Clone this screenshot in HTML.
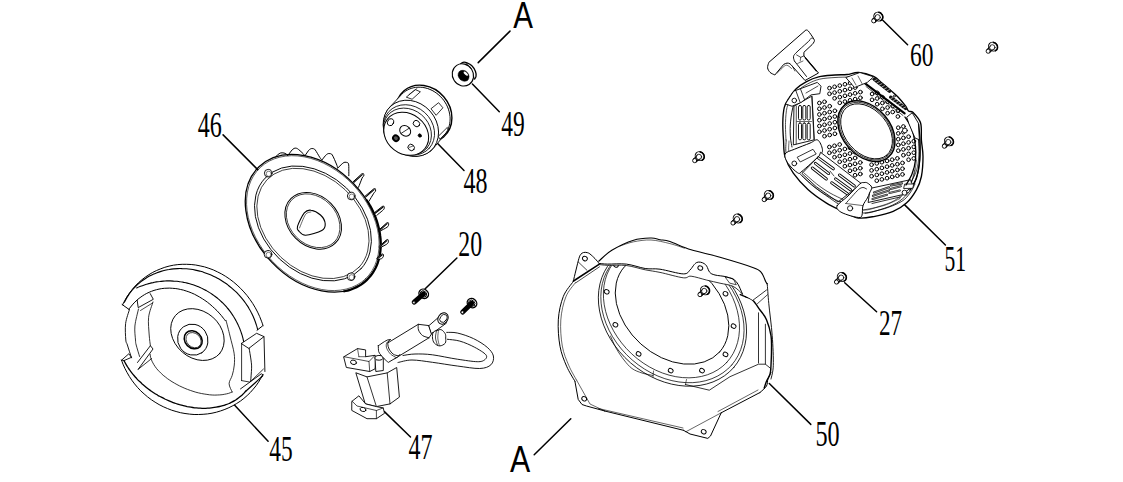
<!DOCTYPE html>
<html><head><meta charset="utf-8"><style>html,body{margin:0;padding:0;background:#fff;overflow:hidden}svg{display:block}</style></head>
<body><svg width="1123" height="482" viewBox="0 0 1123 482" stroke-linecap="round" stroke-linejoin="round">
<text transform="translate(197.7 136.7) scale(0.682 1)" font-family="Liberation Serif" font-size="35.3">46</text>
<text transform="translate(269.3 460.7) scale(0.644 1)" font-family="Liberation Serif" font-size="36.3">45</text>
<text transform="translate(501.2 135.9) scale(0.647 1)" font-family="Liberation Serif" font-size="36.3">49</text>
<text transform="translate(463.5 192.8) scale(0.662 1)" font-family="Liberation Serif" font-size="36.3">48</text>
<text transform="translate(458.3 256.1) scale(0.670 1)" font-family="Liberation Serif" font-size="35.6">20</text>
<text transform="translate(408.5 458.8) scale(0.659 1)" font-family="Liberation Serif" font-size="36.5">47</text>
<text transform="translate(815.5 445.7) scale(0.697 1)" font-family="Liberation Serif" font-size="34.8">50</text>
<text transform="translate(944.5 271.1) scale(0.610 1)" font-family="Liberation Serif" font-size="35.4">51</text>
<text transform="translate(879 335) scale(0.655 1)" font-family="Liberation Serif" font-size="35.4">27</text>
<text transform="translate(909.9 66.3) scale(0.687 1)" font-family="Liberation Serif" font-size="34.2">60</text>
<text transform="translate(513.3 28.2) scale(0.803 1)" font-family="Liberation Sans" font-size="36.8">A</text>
<text transform="translate(510 472.3) scale(0.802 1)" font-family="Liberation Sans" font-size="37.8">A</text>
<line x1="223.1" y1="134.9" x2="257.7" y2="169.6" stroke="#000" stroke-width="1.5"/>
<line x1="234.7" y1="405.3" x2="268.1" y2="441.3" stroke="#000" stroke-width="1.5"/>
<line x1="472.4" y1="84" x2="499.3" y2="111.7" stroke="#000" stroke-width="1.5"/>
<line x1="478.2" y1="62.6" x2="510" y2="31.1" stroke="#000" stroke-width="1.5"/>
<line x1="436.4" y1="142.2" x2="464" y2="170.4" stroke="#000" stroke-width="1.5"/>
<line x1="456.9" y1="258" x2="425.2" y2="288.8" stroke="#000" stroke-width="1.5"/>
<line x1="384.4" y1="411.6" x2="410.5" y2="437" stroke="#000" stroke-width="1.5"/>
<line x1="769.3" y1="383.5" x2="810.8" y2="424.4" stroke="#000" stroke-width="1.5"/>
<line x1="570.8" y1="418.7" x2="534.2" y2="454.8" stroke="#000" stroke-width="1.5"/>
<line x1="904.2" y1="204.4" x2="945.4" y2="245" stroke="#000" stroke-width="1.5"/>
<line x1="844.7" y1="282.8" x2="876.6" y2="311.8" stroke="#000" stroke-width="1.5"/>
<line x1="882.8" y1="20.3" x2="907.6" y2="44.8" stroke="#000" stroke-width="1.5"/>
<ellipse cx="312.9" cy="223.2" rx="78" ry="56.7" transform="rotate(46.6 312.9 223.2)" stroke="#000" stroke-width="1.3" fill="none"/>
<path d="M366.8 200.1C367.4 201.1 369.2 203.9 370.2 205.9C371.3 207.8 372.3 209.8 373.2 211.7C374.1 213.7 374.9 215.7 375.7 217.7C376.4 219.7 377.1 221.7 377.7 223.7C378.3 225.8 378.8 227.8 379.2 229.8C379.6 231.8 380 233.8 380.2 235.7C380.5 237.7 380.7 239.7 380.7 241.6C380.8 243.5 380.8 245.5 380.7 247.3C380.6 249.2 380.5 251.1 380.2 252.9C379.9 254.7 379.6 256.5 379.2 258.2C378.7 259.9 378.2 261.6 377.6 263.3C377 264.9 376.3 266.5 375.6 268C374.8 269.5 374 271 373.1 272.4C372.2 273.8 371.2 275.2 370.1 276.5C369 277.7 367.9 279 366.7 280.1C365.5 281.2 364.2 282.3 362.9 283.3C361.5 284.3 360.1 285.2 358.7 286C357.2 286.9 355.7 287.6 354.1 288.3C352.6 289 351 289.6 349.3 290.1C347.6 290.6 345 291.1 344.2 291.3" stroke="#000" stroke-width="2.2" fill="none"/>
<ellipse cx="312.9" cy="223.2" rx="76.6" ry="55.6" transform="rotate(46.6 312.9 223.2)" stroke="#000" stroke-width="0.6" fill="none"/>
<ellipse cx="313" cy="223.5" rx="66" ry="48.8" transform="rotate(43.4 313 223.5)" stroke="#000" stroke-width="0.9" fill="none"/>
<ellipse cx="313" cy="223.5" rx="63.5" ry="46.6" transform="rotate(43.4 313 223.5)" stroke="#000" stroke-width="0.7" fill="none"/>
<ellipse cx="313.2" cy="220.8" rx="31.5" ry="24.8" transform="rotate(45.4 313.2 220.8)" stroke="#000" stroke-width="1.0" fill="none"/>
<ellipse cx="313.2" cy="220.8" rx="30" ry="23.4" transform="rotate(45.4 313.2 220.8)" stroke="#000" stroke-width="0.7" fill="none"/>
<circle cx="268.2" cy="173.2" r="3.8" stroke="#000" stroke-width="0.9" fill="#fff"/>
<circle cx="268.8" cy="173.79999999999998" r="2.6" stroke="#000" stroke-width="0.5" fill="none"/>
<circle cx="351.2" cy="196" r="3.8" stroke="#000" stroke-width="0.9" fill="#fff"/>
<circle cx="351.8" cy="196.6" r="2.6" stroke="#000" stroke-width="0.5" fill="none"/>
<circle cx="268" cy="254.3" r="3.8" stroke="#000" stroke-width="0.9" fill="#fff"/>
<circle cx="268.6" cy="254.9" r="2.6" stroke="#000" stroke-width="0.5" fill="none"/>
<circle cx="351" cy="276.7" r="3.8" stroke="#000" stroke-width="0.9" fill="#fff"/>
<circle cx="351.6" cy="277.3" r="2.6" stroke="#000" stroke-width="0.5" fill="none"/>
<path d="M297.5 226.4C298.4 223.4 302.1 215.6 304.3 212.9C306.6 210.2 308.3 209.8 311 210.2C313.7 210.5 318.1 212.8 320.5 215C322.9 217.2 325 221.1 325.2 223.7C325.4 226.3 325.1 228.6 321.8 230.5C318.5 232.4 309.4 235.1 305.6 235.2C301.8 235.3 300.2 232.6 298.9 231.1C297.5 229.6 296.6 229.4 297.5 226.4Z" stroke="#000" stroke-width="1.1" fill="none"/>
<path d="M299.5 228C300.5 225.8 303.6 217.2 305.5 214.5C307.4 211.8 310.1 212.4 311 212" stroke="#000" stroke-width="0.6" fill="none"/>
<path d="M274.6 157.8C275.1 157.3 276.5 155.8 277.5 155C278.5 154.2 279.6 153.2 280.8 152.9C282.1 152.6 283.8 152.9 285 153.3C286.2 153.7 287.3 155.1 287.8 155.4" stroke="#000" stroke-width="1.0" fill="none"/>
<path d="M287.8 155.4 L292.1 149.9 C292.4 149.7 293.4 148.7 294.1 148.4C294.8 148.1 295.5 148 296.3 148.2C297.1 148.4 297.6 148.7 298.7 149.6C299.8 150.5 302.2 152.7 303.2 153.7C304.2 154.7 304.6 155.5 304.9 155.8" stroke="#000" stroke-width="1.0" fill="none"/>
<path d="M304.9 155.8 L308.7 150.3 C309 150 310 149.1 310.7 148.8C311.4 148.5 312.1 148.4 312.9 148.6C313.7 148.8 314.1 148.5 315.3 150C316.4 151.5 318.7 155.7 319.8 157.4C320.9 159.1 321.5 159.6 321.9 160" stroke="#000" stroke-width="1.0" fill="none"/>
<path d="M321.9 160 L325.7 155.3 C326 155 327 154.1 327.7 153.8C328.4 153.5 329.1 153.4 329.9 153.6C330.7 153.8 331.2 153.3 332.3 155C333.4 156.7 335.5 161.9 336.4 164C337.3 166.1 337.4 167 337.6 167.6" stroke="#000" stroke-width="1.0" fill="none"/>
<path d="M337.6 168.2 L341.9 164 C342.2 163.8 343.2 162.8 343.9 162.5C344.6 162.2 345.3 162.1 346.1 162.3C346.9 162.5 348.1 162.4 348.5 163.7C348.9 165 348.8 167.9 348.8 169.9C348.9 171.9 348.8 174.7 348.8 175.7" stroke="#000" stroke-width="1.0" fill="none"/>
<path d="M353.3 181.6 L361.7 173.9C362 173.8 363 173.2 363.3 173.5C363.7 173.8 364 175 363.8 175.8C363.6 176.5 363 176.2 362.1 178.1C361.3 180 359.1 185.8 358.5 187.3" stroke="#000" stroke-width="1.0" fill="#fff"/>
<path d="M353.9 182.3L362.3 174.6" stroke="#000" stroke-width="1.1" fill="none"/>
<path d="M365.2 196.1 L373.5 189C373.8 189 374.9 188.3 375.2 188.6C375.5 189 375.8 190.2 375.6 191C375.4 191.7 375 191.5 373.8 193.2C372.7 194.9 369.7 200 368.9 201.3" stroke="#000" stroke-width="1.0" fill="#fff"/>
<path d="M365.8 196.8L374.1 189.7" stroke="#000" stroke-width="1.1" fill="none"/>
<path d="M373.9 213.1 L382.2 206.5C382.5 206.4 383.6 205.9 383.9 206.2C384.2 206.5 384.4 207.7 384.2 208.5C383.9 209.3 383.6 209.6 382.4 210.7C381.1 211.8 377.7 214.5 376.8 215.3" stroke="#000" stroke-width="1.0" fill="#fff"/>
<path d="M374.5 213.8L382.8 207.2" stroke="#000" stroke-width="1.1" fill="none"/>
<path d="M378.3 230.5 L386.5 223.1C386.8 223 387.8 222.3 388.2 222.6C388.5 223 388.9 224.2 388.6 224.9C388.4 225.7 388.5 226.2 387 227.3C385.5 228.3 380.9 230.6 379.7 231.3" stroke="#000" stroke-width="1.0" fill="#fff"/>
<path d="M378.9 231.2L387.1 223.7" stroke="#000" stroke-width="1.1" fill="none"/>
<path d="M379 246.5 L386.3 240C386.6 239.9 387.6 239.2 388 239.6C388.3 239.9 388.6 241.1 388.4 241.8C388.2 242.6 388.2 243.1 386.7 244.2C385.2 245.2 380.7 247.4 379.5 248" stroke="#000" stroke-width="1.0" fill="#fff"/>
<path d="M379.6 247.2L386.9 240.6" stroke="#000" stroke-width="1.1" fill="none"/>
<path d="M376.8 258.2 L381.4 254.4C381.6 254.3 382.7 253.7 383 254C383.4 254.3 383.6 255.5 383.4 256.3C383.2 257.1 382.6 258 381.6 258.6C380.7 259.1 378.2 259.3 377.5 259.5" stroke="#000" stroke-width="1.0" fill="#fff"/>
<path d="M377.4 258.9L382 255" stroke="#000" stroke-width="1.1" fill="none"/>
<path d="M122.6 304.8C122.9 304.1 123.9 302 124.7 300.7C125.4 299.3 126.2 298 127 296.7C127.8 295.5 128.6 294.2 129.5 293C130.4 291.8 131.3 290.6 132.3 289.4C133.2 288.2 134.2 287.1 135.2 286C136.2 284.9 137.3 283.9 138.4 282.8C139.4 281.8 140.6 280.8 141.7 279.9C142.8 278.9 144 278 145.2 277.2C146.4 276.3 147.6 275.5 148.9 274.7C150.1 273.9 151.4 273.1 152.7 272.4C153.9 271.7 155.3 271.1 156.6 270.5C157.9 269.9 159.3 269.3 160.7 268.8C162 268.2 163.4 267.7 164.8 267.3C166.2 266.9 167.6 266.5 169.1 266.1C170.5 265.8 171.9 265.5 173.4 265.2C174.8 265 176.3 264.8 177.8 264.6C179.3 264.5 180.7 264.4 182.2 264.3C183.7 264.3 185.2 264.2 186.7 264.3C188.2 264.3 189.7 264.4 191.2 264.5C192.7 264.6 194.2 264.8 195.7 265C197.1 265.3 198.6 265.5 200.1 265.9C201.6 266.2 203.1 266.5 204.6 266.9C206 267.4 207.5 267.8 208.9 268.3C210.4 268.8 211.8 269.4 213.3 269.9C214.7 270.5 216.1 271.2 217.5 271.9C218.9 272.5 220.3 273.2 221.7 274C223 274.8 224.4 275.6 225.7 276.4C227.1 277.3 228.4 278.2 229.7 279.1C231 280 232.2 281 233.5 282C234.7 283 235.9 284 237.1 285.1C238.3 286.2 239.5 287.3 240.6 288.4C241.8 289.5 242.9 290.7 243.9 291.9C245 293.1 246.1 294.4 247.1 295.6C248.1 296.9 249.1 298.2 250 299.5C251 300.9 251.9 302.2 252.8 303.6C253.6 305 254.5 306.4 255.3 307.8C256.1 309.2 256.9 310.7 257.6 312.1C258.3 313.6 259 315.1 259.7 316.6C260.3 318.1 261 319.6 261.5 321.2C262.1 322.7 262.9 325 263.1 325.8" stroke="#000" stroke-width="1.0" fill="none"/>
<path d="M124.4 302.2C124.7 301.6 125.6 299.8 126.3 298.6C127 297.4 127.7 296.3 128.5 295.1C129.2 294 130 292.9 130.8 291.8C131.7 290.8 132.5 289.7 133.4 288.7C134.3 287.7 135.3 286.7 136.2 285.8C137.2 284.8 138.2 283.9 139.3 283C140.3 282.2 141.4 281.3 142.5 280.5C143.6 279.7 144.7 278.9 145.9 278.2C147 277.5 148.2 276.8 149.4 276.1C150.6 275.5 151.9 274.9 153.1 274.3C154.4 273.7 155.7 273.2 157 272.7C158.3 272.2 159.6 271.8 161 271.4C162.3 271 163.7 270.6 165 270.3C166.4 270 167.8 269.7 169.2 269.5C170.6 269.2 172.1 269 173.5 268.9C174.9 268.8 176.3 268.7 177.8 268.6C179.2 268.5 180.7 268.5 182.2 268.6C183.6 268.6 185.1 268.7 186.5 268.8C188 268.9 189.5 269.1 190.9 269.3C192.4 269.5 193.9 269.8 195.3 270.1C196.8 270.4 198.2 270.7 199.7 271.1C201.1 271.5 202.6 271.9 204 272.4C205.4 272.9 206.9 273.4 208.3 273.9C209.7 274.5 211.1 275.1 212.5 275.7C213.9 276.4 215.2 277 216.6 277.7C217.9 278.5 219.3 279.2 220.6 280C221.9 280.8 223.2 281.6 224.4 282.5C225.7 283.3 227 284.2 228.2 285.2C229.4 286.1 230.6 287.1 231.8 288.1C232.9 289.1 234.1 290.1 235.2 291.2C236.3 292.2 237.4 293.3 238.4 294.4C239.5 295.5 240.5 296.7 241.5 297.9C242.4 299 243.4 300.2 244.3 301.4C245.2 302.7 246.1 303.9 246.9 305.2C247.8 306.4 248.6 307.7 249.3 309C250.1 310.3 250.8 311.6 251.5 313C252.2 314.3 252.8 315.7 253.4 317C254 318.4 254.6 319.8 255.1 321.2C255.6 322.6 256.1 324 256.5 325.4C257 326.8 257.5 328.9 257.7 329.6" stroke="#000" stroke-width="1.1" fill="none"/>
<path d="M122.1 304.5L129.4 309.7" stroke="#000" stroke-width="1.0" fill="none"/>
<path d="M262.5 326L257 330.2" stroke="#000" stroke-width="1.0" fill="none"/>
<path d="M136.7 288C137.3 287.7 138.8 287 139.9 286.6C141 286.2 142 285.8 143.1 285.4C144.2 285 145.3 284.6 146.4 284.3C147.5 284 148.6 283.6 149.7 283.4C150.8 283.1 151.9 282.8 153.1 282.6C154.2 282.3 155.3 282.1 156.4 281.9C157.6 281.7 158.7 281.6 159.8 281.5C161 281.3 162.1 281.2 163.3 281.1C164.4 281 165.6 281 166.7 280.9C167.9 280.9 169 280.9 170.1 280.9C171.3 280.9 172.4 281 173.6 281.1C174.7 281.1 175.9 281.2 177 281.3C178.2 281.5 179.3 281.6 180.4 281.8C181.6 281.9 182.7 282.1 183.8 282.4C184.9 282.6 186.1 282.8 187.2 283.1C188.3 283.4 189.4 283.7 190.5 284C191.6 284.3 192.7 284.7 193.8 285C194.8 285.4 195.9 285.8 197 286.2C198 286.6 199.1 287.1 200.1 287.5C201.2 288 202.2 288.5 203.2 289C204.3 289.5 205.3 290.1 206.3 290.6C207.3 291.2 208.3 291.8 209.2 292.4C210.2 293 211.2 293.6 212.1 294.2C213.1 294.9 214 295.5 214.9 296.2C215.8 296.9 216.7 297.6 217.6 298.3C218.5 299.1 219.3 299.8 220.2 300.6C221 301.4 221.9 302.1 222.7 302.9C223.5 303.7 224.3 304.6 225.1 305.4C225.8 306.2 226.6 307.1 227.3 308C228.1 308.8 228.8 309.7 229.5 310.6C230.2 311.5 230.9 312.5 231.5 313.4C232.2 314.3 232.8 315.3 233.4 316.3C234 317.2 234.6 318.2 235.2 319.2C235.7 320.2 236.3 321.2 236.8 322.2C237.3 323.2 237.8 324.2 238.3 325.3C238.8 326.3 239.2 327.4 239.7 328.4C240.1 329.5 240.5 330.6 240.9 331.6C241.3 332.7 241.6 333.8 242 334.9C242.3 336 242.6 337.1 242.9 338.2C243.2 339.3 243.5 341 243.7 341.5" stroke="#000" stroke-width="1.1" fill="none"/>
<path d="M128.9 309.2C129.2 308.8 130 307.7 130.6 307C131.1 306.3 131.7 305.6 132.3 304.9C132.9 304.2 133.5 303.5 134.1 302.9C134.7 302.2 135.3 301.6 136 301C136.6 300.4 137.3 299.8 138 299.2C138.7 298.7 139.4 298.1 140.1 297.6C140.8 297.1 141.5 296.5 142.2 296.1C142.9 295.6 143.7 295.1 144.4 294.7C145.2 294.2 145.9 293.8 146.7 293.4C147.5 293 148.3 292.6 149.1 292.3C149.9 291.9 150.7 291.6 151.5 291.3C152.3 291 153.1 290.7 154 290.4C154.8 290.1 155.6 289.9 156.5 289.7C157.3 289.4 158.2 289.3 159 289.1C159.9 288.9 160.8 288.8 161.7 288.6C162.5 288.5 163.4 288.4 164.3 288.3C165.2 288.2 166.1 288.2 167 288.2C167.9 288.1 168.8 288.1 169.7 288.1C170.6 288.2 171.5 288.2 172.4 288.3C173.3 288.3 174.2 288.4 175.2 288.5C176.1 288.6 177 288.8 177.9 288.9C178.8 289.1 179.7 289.3 180.7 289.5C181.6 289.7 182.5 289.9 183.4 290.1C184.3 290.4 185.3 290.7 186.2 291C187.1 291.3 188 291.6 188.9 291.9C189.8 292.3 190.7 292.6 191.7 293C192.6 293.4 193.5 293.8 194.4 294.2C195.3 294.7 196.2 295.1 197 295.6C197.9 296.1 198.8 296.5 199.7 297.1C200.6 297.6 201.4 298.1 202.3 298.7C203.2 299.2 204 299.8 204.9 300.4C205.7 301 206.6 301.6 207.4 302.2C208.2 302.9 209.1 303.5 209.9 304.2C210.7 304.9 211.5 305.6 212.3 306.3C213.1 307 213.9 307.7 214.7 308.5C215.5 309.2 216.2 310 217 310.7C217.7 311.5 218.5 312.3 219.2 313.1C219.9 313.9 220.7 314.8 221.4 315.6C222.1 316.4 222.8 317.3 223.4 318.2C224.1 319 225.1 320.4 225.4 320.8" stroke="#000" stroke-width="1.0" fill="none"/>
<path d="M137.2 300.4L138.2 307.6L153.3 299.3L150.2 293.6" stroke="#000" stroke-width="0.9" fill="none"/>
<path d="M140.5 310.5L152.5 303" stroke="#000" stroke-width="0.7" fill="none"/>
<path d="M129.4 309.7C128.8 312 126.2 318.6 125.6 323.6C125 328.7 125.5 336.4 125.8 340C126.1 343.6 126.5 342 127.4 345C128.3 348 130.8 355.7 131.5 357.8" stroke="#000" stroke-width="0.9" fill="none"/>
<path d="M138.5 309C137.9 311.8 135.4 320.8 134.9 326C134.4 331.2 135.3 336.8 135.5 340C135.7 343.2 135.5 342.2 136.2 345C136.9 347.8 139 354.6 139.6 356.5" stroke="#000" stroke-width="0.8" fill="none"/>
<path d="M153 302C152.3 304.6 149.2 311.8 148.6 317.3C148 322.8 148.9 330.3 149.2 335C149.5 339.7 150.2 343.9 150.4 345.7" stroke="#000" stroke-width="0.8" fill="none"/>
<path d="M121.4 360C121.7 360.7 122.5 362.8 123 364.2C123.6 365.6 124.2 367 124.9 368.4C125.5 369.8 126.2 371.1 127 372.4C127.7 373.8 128.5 375.1 129.3 376.4C130.1 377.7 130.9 379 131.8 380.2C132.7 381.5 133.6 382.7 134.6 383.9C135.5 385.1 136.5 386.3 137.5 387.4C138.6 388.6 139.6 389.7 140.7 390.8C141.8 391.8 142.9 392.9 144.1 393.9C145.2 394.9 146.4 395.9 147.6 396.9C148.8 397.9 150 398.8 151.3 399.7C152.5 400.6 153.8 401.4 155.1 402.2C156.4 403 157.8 403.8 159.1 404.6C160.5 405.3 161.8 406 163.2 406.7C164.6 407.3 166 408 167.4 408.5C168.8 409.1 170.3 409.7 171.7 410.2C173.2 410.7 174.6 411.1 176.1 411.5C177.6 412 179 412.3 180.5 412.7C182 413 183.5 413.3 185 413.5C186.5 413.8 188 414 189.5 414.1C191 414.3 192.6 414.4 194.1 414.5C195.6 414.5 197.1 414.5 198.6 414.5C200.1 414.5 201.6 414.4 203.1 414.3C204.6 414.2 206.1 414.1 207.6 413.9C209.1 413.7 210.5 413.4 212 413.2C213.5 412.9 214.9 412.5 216.4 412.2C217.8 411.8 219.2 411.4 220.7 410.9C222.1 410.5 223.5 410 224.9 409.4C226.2 408.9 227.6 408.3 228.9 407.7C230.3 407.1 231.6 406.4 232.9 405.7C234.2 405 235.5 404.3 236.7 403.5C237.9 402.7 239.2 401.9 240.4 401.1C241.6 400.2 242.7 399.3 243.9 398.4C245 397.5 246.1 396.5 247.2 395.5C248.3 394.6 249.3 393.5 250.3 392.5C251.3 391.4 252.3 390.3 253.2 389.2C254.2 388.1 255.1 387 256 385.8C256.8 384.6 257.7 383.4 258.5 382.2C259.3 381 260 379.7 260.7 378.5C261.5 377.2 262.4 375.2 262.8 374.6" stroke="#000" stroke-width="1.0" fill="none"/>
<path d="M123.9 360.5C124.2 361.1 125 362.6 125.6 363.6C126.2 364.7 126.8 365.7 127.4 366.7C128.1 367.7 128.7 368.7 129.4 369.7C130.1 370.7 130.9 371.7 131.6 372.6C132.4 373.6 133.2 374.6 134 375.5C134.8 376.5 135.6 377.4 136.5 378.3C137.3 379.3 138.2 380.2 139.1 381.1C140.1 382 141 382.8 141.9 383.7C142.9 384.6 143.9 385.4 144.9 386.2C145.9 387.1 146.9 387.9 148 388.7C149 389.5 150.1 390.2 151.1 391C152.2 391.8 153.3 392.5 154.4 393.2C155.5 393.9 156.7 394.6 157.8 395.3C159 395.9 160.1 396.6 161.3 397.2C162.5 397.8 163.7 398.4 164.8 399C166 399.6 167.2 400.1 168.5 400.6C169.7 401.2 170.9 401.7 172.1 402.1C173.4 402.6 174.6 403.1 175.8 403.5C177.1 403.9 178.3 404.3 179.6 404.7C180.8 405 182.1 405.4 183.3 405.7C184.6 406 185.9 406.3 187.1 406.6C188.4 406.8 189.6 407 190.9 407.2C192.1 407.4 193.4 407.6 194.6 407.8C195.9 407.9 197.1 408 198.4 408.1C199.6 408.2 200.8 408.2 202.1 408.3C203.3 408.3 204.5 408.3 205.7 408.3C206.9 408.2 208.1 408.2 209.3 408.1C210.5 408 211.6 407.9 212.8 407.7C214 407.6 215.1 407.4 216.2 407.2C217.4 407 218.5 406.8 219.6 406.5C220.7 406.3 221.8 406 222.8 405.7C223.9 405.4 224.9 405 225.9 404.6C227 404.3 228 403.9 229 403.5C229.9 403 230.9 402.6 231.8 402.1C232.8 401.6 233.7 401.1 234.6 400.6C235.5 400.1 236.3 399.5 237.2 398.9C238 398.4 238.8 397.8 239.6 397.1C240.4 396.5 241.1 395.9 241.9 395.2C242.6 394.5 243.3 393.8 244 393.1C244.6 392.4 245.6 391.3 245.9 390.9" stroke="#000" stroke-width="1.3" fill="none"/>
<path d="M122 359.8L128.8 353.8L131.5 357.3L124.2 360.5Z" stroke="#000" stroke-width="0.9" fill="none"/>
<path d="M137.5 362.5L150.4 345.7L153 349L138.2 369.3" stroke="#000" stroke-width="0.9" fill="none"/>
<path d="M138.2 369.3L151.7 358.5" stroke="#000" stroke-width="0.8" fill="none"/>
<path d="M150.1 354.3C150.1 354.6 150.2 355.4 150.3 356C150.4 356.6 150.6 357.1 150.7 357.7C150.9 358.3 151 358.8 151.3 359.4C151.5 360 151.7 360.6 152 361.2C152.2 361.8 152.5 362.3 152.9 362.9C153.2 363.5 153.5 364.1 153.9 364.7C154.3 365.3 154.7 365.9 155.1 366.5C155.5 367.1 156 367.7 156.4 368.3C156.9 368.9 157.4 369.5 157.9 370.1C158.5 370.6 159 371.2 159.6 371.8C160.1 372.4 160.7 373 161.3 373.5C161.9 374.1 162.6 374.7 163.2 375.3C163.9 375.8 164.6 376.4 165.3 376.9C165.9 377.5 166.7 378 167.4 378.6C168.1 379.1 168.9 379.6 169.6 380.1C170.4 380.7 171.2 381.2 172 381.7C172.8 382.2 173.6 382.7 174.4 383.1C175.2 383.6 176 384.1 176.9 384.5C177.7 385 178.6 385.4 179.5 385.9C180.3 386.3 181.2 386.7 182.1 387.1C183 387.5 183.9 387.9 184.8 388.3C185.7 388.7 186.6 389.1 187.5 389.4C188.4 389.8 189.3 390.1 190.3 390.4C191.2 390.7 192.1 391 193 391.3C194 391.6 194.9 391.9 195.8 392.2C196.8 392.4 197.7 392.7 198.6 392.9C199.6 393.1 200.5 393.3 201.4 393.5C202.3 393.7 203.3 393.9 204.2 394C205.1 394.2 206 394.3 206.9 394.4C207.8 394.6 208.7 394.7 209.6 394.8C210.5 394.8 211.4 394.9 212.2 395C213.1 395 213.9 395 214.8 395.1C215.6 395.1 216.5 395.1 217.3 395C218.1 395 218.9 395 219.7 394.9C220.5 394.9 221.3 394.8 222.1 394.7C222.8 394.6 223.6 394.5 224.3 394.3C225 394.2 225.7 394.1 226.4 393.9C227.1 393.7 227.8 393.6 228.5 393.4C229.1 393.2 229.7 392.9 230.4 392.7C231 392.5 231.8 392.1 232.1 392" stroke="#000" stroke-width="0.8" fill="none"/>
<path d="M232.2 392C231.7 390.6 229.1 386.5 229.1 383.7C229.1 380.9 231.3 378.5 232.2 375.4C233.1 372.3 234 368.7 234.3 365C234.6 361.3 234.8 358 234.1 353.2C233.4 348.4 231.3 341.5 230 336C228.7 330.5 226.7 322.9 226 320.3" stroke="#000" stroke-width="0.8" fill="none"/>
<path d="M241.6 343.3L256.6 333.3L264 336.6L249.1 348.2Z" stroke="#000" stroke-width="0.9" fill="none"/>
<path d="M241.6 343.3L241.6 380.6" stroke="#000" stroke-width="0.8" fill="none"/>
<path d="M249.1 348.2C249.4 350.2 250.6 356.7 251 360C251.4 363.3 251.7 364.7 251.6 368.2C251.5 371.7 250.8 378.9 250.7 381" stroke="#000" stroke-width="0.9" fill="none"/>
<path d="M264 336.6L264.9 371.5" stroke="#000" stroke-width="0.9" fill="none"/>
<path d="M241.6 380.6L249.9 382.1L263.4 369.1" stroke="#000" stroke-width="0.8" fill="none"/>
<path d="M240.5 388.9L261.3 373.8L263.4 374.9" stroke="#000" stroke-width="0.9" fill="none"/>
<path d="M246 391C247.5 389.7 252.2 385.5 255 383C257.8 380.5 261.2 377.2 262.5 376" stroke="#000" stroke-width="1.2" fill="none"/>
<ellipse cx="197.5" cy="334.6" rx="29.2" ry="23.2" transform="rotate(41 197.5 334.6)" stroke="#000" stroke-width="0.9" fill="none"/>
<ellipse cx="192.8" cy="339.7" rx="15.9" ry="14.9" transform="rotate(55 192.8 339.7)" stroke="#000" stroke-width="0.9" fill="none"/>
<ellipse cx="193.2" cy="339.8" rx="9.8" ry="8.2" transform="rotate(45 193.2 339.8)" stroke="#000" stroke-width="1.5" fill="none"/>
<ellipse cx="193.6" cy="340.2" rx="8.4" ry="6.8" transform="rotate(45 193.6 340.2)" stroke="#000" stroke-width="0.7" fill="none"/>
<ellipse cx="423.8" cy="113.9" rx="30.4" ry="26.3" transform="rotate(49.4 423.8 113.9)" stroke="#000" stroke-width="1.4" fill="#fff"/>
<ellipse cx="423.3" cy="114.6" rx="28.8" ry="24.8" transform="rotate(49.4 423.3 114.6)" stroke="#000" stroke-width="0.6" fill="none"/>
<path d="M383.8 124.2L383.8 121.8L384.1 119.4L384.5 117.1L385.2 114.9L386.1 112.8L387.1 110.7L388.4 108.8L389.8 107.1L401.8 94.3L403.4 92.7L405.2 91.4L407.1 90.2L409.1 89.2L411.2 88.4L413.4 87.8L415.7 87.3L418 87.2L420.3 87.2L422.7 87.4L425.1 87.9L427.5 88.5L429.8 89.4L432.1 90.4L434.3 91.7L436.4 93.1L438.4 94.7L440.3 96.4L442.1 98.3L443.7 100.3L445.1 102.4L446.4 104.6L447.5 106.9L448.4 109.2L449.1 111.6L449.7 114.1L450 116.5L450.1 118.9L450 121.3L449.7 123.6L449.2 125.9L448.5 128.1L447.6 130.2L446.5 132.2L445.2 134L433.2 148.5L431.6 150.1L429.8 151.5L427.9 152.8L425.9 153.8L423.8 154.7L421.6 155.3L419.3 155.7L416.9 156L414.6 156L412.1 155.8L409.7 155.4L407.3 154.7L404.9 153.9L402.6 152.9L400.4 151.7L398.2 150.2L396.1 148.7L394.1 146.9L392.3 145.1L390.6 143.1L389.1 140.9L387.8 138.7L386.6 136.4L385.6 134L384.9 131.6L384.3 129.2L383.9 126.7Z" stroke="#000" stroke-width="0.9" fill="#fff"/>
<path d="M431.3 108.5L438.6 102.7L442.9 107.8L436.4 115Z" stroke="#000" stroke-width="0.8" fill="#fff"/>
<path d="M406.6 96.9L415.3 89.6L420.4 91.8L412.4 99Z" stroke="#000" stroke-width="0.8" fill="none"/>
<path d="M409 94.5L417 88.5" stroke="#000" stroke-width="0.6" fill="none"/>
<path d="M438.6 136L447.3 127.4L448.7 130.3L440 139Z" stroke="#000" stroke-width="0.8" fill="none"/>
<ellipse cx="410.9" cy="128.4" rx="30" ry="25.8" transform="rotate(48 410.9 128.4)" stroke="#000" stroke-width="0.9" fill="#fff"/>
<ellipse cx="409" cy="130" rx="27.3" ry="23.5" transform="rotate(42 409 130)" stroke="#000" stroke-width="0.8" fill="#fff"/>
<ellipse cx="407.5" cy="131.5" rx="25.5" ry="21.8" transform="rotate(40 407.5 131.5)" stroke="#000" stroke-width="0.8" fill="#fff"/>
<ellipse cx="406.2" cy="133.8" rx="23.8" ry="20" transform="rotate(38 406.2 133.8)" stroke="#000" stroke-width="1.0" fill="#fff"/>
<ellipse cx="390.6" cy="122.2" rx="3" ry="3.6" transform="rotate(20 390.6 122.2)" stroke="#000" stroke-width="0.9" fill="#fff"/>
<ellipse cx="416.5" cy="123.6" rx="3.4" ry="3" transform="rotate(40 416.5 123.6)" stroke="#000" stroke-width="0.9" fill="#fff"/>
<ellipse cx="405.2" cy="130.9" rx="5.8" ry="5" transform="rotate(40 405.2 130.9)" stroke="#000" stroke-width="1.0" fill="#fff"/>
<path d="M401 133.5L409.5 128" stroke="#000" stroke-width="0.8" fill="none"/>
<ellipse cx="395.9" cy="138.2" rx="3" ry="2.7" transform="rotate(40 395.9 138.2)" stroke="#000" stroke-width="1.8" fill="#555"/>
<ellipse cx="419.8" cy="135.5" rx="1.7" ry="1.5" transform="rotate(40 419.8 135.5)" stroke="#000" stroke-width="0.8" fill="#000"/>
<ellipse cx="411.2" cy="147.5" rx="3.4" ry="3" transform="rotate(40 411.2 147.5)" stroke="#000" stroke-width="0.9" fill="#fff"/>
<path d="M409 147.5L413 146" stroke="#000" stroke-width="0.6" fill="none"/>
<path d="M460.5 64C460.9 63.7 461.9 62.5 463 62.3C464.1 62.1 465.5 62.2 467 62.8C468.5 63.4 470.5 64.3 471.9 65.8C473.3 67.2 474.8 69.7 475.5 71.5C476.2 73.3 476.2 75.2 476 76.5C475.8 77.8 474.8 78.6 474.5 79" stroke="#000" stroke-width="1.3" fill="#fff"/>
<path d="M466 63.2L470.8 68.5" stroke="#000" stroke-width="0.7" fill="none"/>
<path d="M470.8 68.5L474.2 78" stroke="#000" stroke-width="0.7" fill="none"/>
<ellipse cx="462.9" cy="74.9" rx="11.4" ry="10.4" transform="rotate(57 462.9 74.9)" stroke="#000" stroke-width="1.1" fill="#fff"/>
<ellipse cx="463.6" cy="75.8" rx="6" ry="5" transform="rotate(45 463.6 75.8)" stroke="#000" stroke-width="0.5" fill="#000"/>
<ellipse cx="465.8" cy="73.6" rx="2.8" ry="1.2" transform="rotate(42 465.8 73.6)" stroke="#000" stroke-width="0" fill="#fff"/>
<line x1="423.4" y1="294" x2="414.2" y2="302.2" stroke="#000" stroke-width="5" stroke-linecap="round"/>
<circle cx="414" cy="302.5" r="1.3" fill="#fff" stroke="#000" stroke-width="0.6"/>
<ellipse cx="423.7" cy="293.8" rx="5" ry="4.4" transform="rotate(40 423.7 293.8)" stroke="#000" stroke-width="1.4" fill="none"/>
<ellipse cx="423.4" cy="294" rx="3.4" ry="3" transform="rotate(40 423.4 294)" stroke="#000" stroke-width="0.9" fill="none"/>
<circle cx="423.1" cy="294.3" r="2.3" fill="#000"/>
<line x1="471.7" y1="303.3" x2="462.7" y2="312" stroke="#000" stroke-width="5" stroke-linecap="round"/>
<circle cx="462.5" cy="312.3" r="1.3" fill="#fff" stroke="#000" stroke-width="0.6"/>
<ellipse cx="472" cy="303.1" rx="5" ry="4.4" transform="rotate(40 472 303.1)" stroke="#000" stroke-width="1.4" fill="none"/>
<ellipse cx="471.7" cy="303.3" rx="3.4" ry="3" transform="rotate(40 471.7 303.3)" stroke="#000" stroke-width="0.9" fill="none"/>
<circle cx="471.4" cy="303.6" r="2.3" fill="#000"/>
<line x1="878.3" y1="16.6" x2="873.7" y2="20.8" stroke="#000" stroke-width="4.4" stroke-linecap="butt"/>
<line x1="878.3" y1="16.6" x2="873.7" y2="20.8" stroke="#fff" stroke-width="2.4" stroke-linecap="butt"/>
<circle cx="873.7" cy="20.8" r="2.1" fill="#fff" stroke="#000" stroke-width="0.9"/>
<ellipse cx="878.3" cy="16.6" rx="4.7" ry="4.2" transform="rotate(40 878.3 16.6)" stroke="#000" stroke-width="1.0" fill="#fff"/>
<path d="M878.8 12.3C879.1 12.4 879.7 12.6 880.2 12.8C880.6 13 881 13.3 881.3 13.7C881.6 14 881.9 14.4 882.2 14.8C882.4 15.2 882.6 15.6 882.7 16.1C882.8 16.5 882.8 17 882.8 17.4C882.8 17.9 882.6 18.3 882.5 18.7C882.3 19.1 882.1 19.4 881.8 19.8C881.5 20.1 880.9 20.4 880.8 20.5" stroke="#000" stroke-width="1.6" fill="none"/>
<circle cx="877.6" cy="17.3" r="2.7" fill="#fff" stroke="#000" stroke-width="0.8"/>
<line x1="875.8" y1="16.1" x2="872.3" y2="19.2" stroke="#000" stroke-width="0.8"/>
<line x1="878.6" y1="19.2" x2="875.1" y2="22.4" stroke="#000" stroke-width="0.8"/>
<line x1="993" y1="46.7" x2="988.2" y2="51.2" stroke="#000" stroke-width="4.4" stroke-linecap="butt"/>
<line x1="993" y1="46.7" x2="988.2" y2="51.2" stroke="#fff" stroke-width="2.4" stroke-linecap="butt"/>
<circle cx="988.2" cy="51.2" r="2.1" fill="#fff" stroke="#000" stroke-width="0.9"/>
<ellipse cx="993" cy="46.7" rx="4.7" ry="4.2" transform="rotate(40 993 46.7)" stroke="#000" stroke-width="1.0" fill="#fff"/>
<path d="M993.5 42.4C993.8 42.5 994.4 42.7 994.9 42.9C995.3 43.1 995.7 43.4 996 43.8C996.3 44.1 996.6 44.5 996.9 44.9C997.1 45.3 997.3 45.7 997.4 46.2C997.5 46.6 997.5 47.1 997.5 47.5C997.5 48 997.3 48.4 997.2 48.8C997 49.2 996.8 49.5 996.5 49.9C996.2 50.2 995.6 50.5 995.5 50.6" stroke="#000" stroke-width="1.6" fill="none"/>
<circle cx="992.3" cy="47.4" r="2.7" fill="#fff" stroke="#000" stroke-width="0.8"/>
<line x1="990.5" y1="46.2" x2="986.8" y2="49.7" stroke="#000" stroke-width="0.8"/>
<line x1="993.3" y1="49.3" x2="989.6" y2="52.7" stroke="#000" stroke-width="0.8"/>
<line x1="699.7" y1="156.2" x2="694.7" y2="160.6" stroke="#000" stroke-width="4.4" stroke-linecap="butt"/>
<line x1="699.7" y1="156.2" x2="694.7" y2="160.6" stroke="#fff" stroke-width="2.4" stroke-linecap="butt"/>
<circle cx="694.7" cy="160.6" r="2.1" fill="#fff" stroke="#000" stroke-width="0.9"/>
<ellipse cx="699.7" cy="156.2" rx="4.7" ry="4.2" transform="rotate(40 699.7 156.2)" stroke="#000" stroke-width="1.0" fill="#fff"/>
<path d="M700.2 151.9C700.5 152 701.1 152.2 701.6 152.4C702 152.6 702.4 152.9 702.7 153.3C703 153.6 703.3 154 703.6 154.4C703.8 154.8 704 155.2 704.1 155.7C704.2 156.1 704.2 156.6 704.2 157C704.2 157.5 704 157.9 703.9 158.3C703.7 158.7 703.5 159 703.2 159.4C702.9 159.7 702.3 160 702.2 160.1" stroke="#000" stroke-width="1.6" fill="none"/>
<circle cx="698.9" cy="156.9" r="2.7" fill="#fff" stroke="#000" stroke-width="0.8"/>
<line x1="697.2" y1="155.6" x2="693.3" y2="159" stroke="#000" stroke-width="0.8"/>
<line x1="700" y1="158.8" x2="696.1" y2="162.2" stroke="#000" stroke-width="0.8"/>
<line x1="768.8" y1="195" x2="764.2" y2="199.6" stroke="#000" stroke-width="4.4" stroke-linecap="butt"/>
<line x1="768.8" y1="195" x2="764.2" y2="199.6" stroke="#fff" stroke-width="2.4" stroke-linecap="butt"/>
<circle cx="764.2" cy="199.6" r="2.1" fill="#fff" stroke="#000" stroke-width="0.9"/>
<ellipse cx="768.8" cy="195" rx="4.7" ry="4.2" transform="rotate(40 768.8 195)" stroke="#000" stroke-width="1.0" fill="#fff"/>
<path d="M769.3 190.7C769.6 190.8 770.2 191 770.7 191.2C771.1 191.4 771.5 191.7 771.8 192.1C772.1 192.4 772.4 192.8 772.7 193.2C772.9 193.6 773.1 194 773.2 194.5C773.3 194.9 773.3 195.4 773.3 195.8C773.3 196.3 773.1 196.7 773 197.1C772.8 197.5 772.6 197.8 772.3 198.2C772 198.5 771.4 198.8 771.3 198.9" stroke="#000" stroke-width="1.6" fill="none"/>
<circle cx="768.1" cy="195.7" r="2.7" fill="#fff" stroke="#000" stroke-width="0.8"/>
<line x1="766.3" y1="194.6" x2="762.7" y2="198.1" stroke="#000" stroke-width="0.8"/>
<line x1="769.2" y1="197.5" x2="765.7" y2="201.1" stroke="#000" stroke-width="0.8"/>
<line x1="737.7" y1="218.5" x2="733" y2="223" stroke="#000" stroke-width="4.4" stroke-linecap="butt"/>
<line x1="737.7" y1="218.5" x2="733" y2="223" stroke="#fff" stroke-width="2.4" stroke-linecap="butt"/>
<circle cx="733" cy="223" r="2.1" fill="#fff" stroke="#000" stroke-width="0.9"/>
<ellipse cx="737.7" cy="218.5" rx="4.7" ry="4.2" transform="rotate(40 737.7 218.5)" stroke="#000" stroke-width="1.0" fill="#fff"/>
<path d="M738.2 214.2C738.5 214.3 739.1 214.5 739.6 214.7C740 214.9 740.4 215.2 740.7 215.6C741 215.9 741.3 216.3 741.6 216.7C741.8 217.1 742 217.5 742.1 218C742.2 218.4 742.2 218.9 742.2 219.3C742.2 219.8 742 220.2 741.9 220.6C741.7 221 741.5 221.3 741.2 221.7C740.9 222 740.3 222.3 740.2 222.4" stroke="#000" stroke-width="1.6" fill="none"/>
<circle cx="737" cy="219.2" r="2.7" fill="#fff" stroke="#000" stroke-width="0.8"/>
<line x1="735.2" y1="218" x2="731.5" y2="221.5" stroke="#000" stroke-width="0.8"/>
<line x1="738.1" y1="221.1" x2="734.5" y2="224.5" stroke="#000" stroke-width="0.8"/>
<line x1="948.9" y1="141.4" x2="944.4" y2="146.2" stroke="#000" stroke-width="4.4" stroke-linecap="butt"/>
<line x1="948.9" y1="141.4" x2="944.4" y2="146.2" stroke="#fff" stroke-width="2.4" stroke-linecap="butt"/>
<circle cx="944.4" cy="146.2" r="2.1" fill="#fff" stroke="#000" stroke-width="0.9"/>
<ellipse cx="948.9" cy="141.4" rx="4.7" ry="4.2" transform="rotate(40 948.9 141.4)" stroke="#000" stroke-width="1.0" fill="#fff"/>
<path d="M949.4 137.1C949.7 137.2 950.3 137.4 950.8 137.6C951.2 137.8 951.6 138.1 951.9 138.5C952.2 138.8 952.5 139.2 952.8 139.6C953 140 953.2 140.4 953.3 140.9C953.4 141.3 953.4 141.8 953.4 142.2C953.4 142.7 953.2 143.1 953.1 143.5C952.9 143.9 952.7 144.2 952.4 144.6C952.1 144.9 951.5 145.2 951.4 145.3" stroke="#000" stroke-width="1.6" fill="none"/>
<circle cx="948.2" cy="142.1" r="2.7" fill="#fff" stroke="#000" stroke-width="0.8"/>
<line x1="946.3" y1="141.1" x2="942.9" y2="144.8" stroke="#000" stroke-width="0.8"/>
<line x1="949.4" y1="143.9" x2="945.9" y2="147.6" stroke="#000" stroke-width="0.8"/>
<line x1="841.8" y1="277" x2="836.5" y2="282" stroke="#000" stroke-width="4.4" stroke-linecap="butt"/>
<line x1="841.8" y1="277" x2="836.5" y2="282" stroke="#fff" stroke-width="2.4" stroke-linecap="butt"/>
<circle cx="836.5" cy="282" r="2.1" fill="#fff" stroke="#000" stroke-width="0.9"/>
<ellipse cx="841.8" cy="277" rx="4.7" ry="4.2" transform="rotate(40 841.8 277)" stroke="#000" stroke-width="1.0" fill="#fff"/>
<path d="M842.3 272.7C842.6 272.8 843.2 273 843.7 273.2C844.1 273.4 844.5 273.7 844.8 274.1C845.1 274.4 845.4 274.8 845.7 275.2C845.9 275.6 846.1 276 846.2 276.5C846.3 276.9 846.3 277.4 846.3 277.8C846.3 278.3 846.1 278.7 846 279.1C845.8 279.5 845.6 279.8 845.3 280.2C845 280.5 844.4 280.8 844.3 280.9" stroke="#000" stroke-width="1.6" fill="none"/>
<circle cx="841.1" cy="277.7" r="2.7" fill="#fff" stroke="#000" stroke-width="0.8"/>
<line x1="839.3" y1="276.5" x2="835.1" y2="280.5" stroke="#000" stroke-width="0.8"/>
<line x1="842.1" y1="279.6" x2="837.9" y2="283.5" stroke="#000" stroke-width="0.8"/>
<path d="M344 356.7L357.5 348.6L365.6 349.9L365.6 356.7L375.1 355.3L375.5 359L375.1 368.8L369.7 371.5L346.7 367.5Z" stroke="#000" stroke-width="0.9" fill="#fff"/>
<path d="M344 356.7L369 361.5L375.1 355.3" stroke="#000" stroke-width="0.7" fill="none"/>
<path d="M369 361.5L369.7 371.5" stroke="#000" stroke-width="0.7" fill="none"/>
<path d="M358.9 356.7L357.5 348.6" stroke="#000" stroke-width="0.6" fill="none"/>
<path d="M358.9 356.7L365.6 356.7" stroke="#000" stroke-width="0.6" fill="none"/>
<ellipse cx="353.5" cy="362.3" rx="3" ry="2.2" transform="rotate(15 353.5 362.3)" stroke="#000" stroke-width="0.9" fill="#fff"/>
<path d="M356.2 372.9L367 376.9L387.2 372.9L396.7 367.5L399.4 397.1L390 403.9L376.4 406.6L365.6 403.9Z" stroke="#000" stroke-width="0.9" fill="#fff"/>
<path d="M367 376.9L376.4 406.6" stroke="#000" stroke-width="0.8" fill="none"/>
<path d="M387.2 372.9L390 403.9" stroke="#000" stroke-width="0.8" fill="none"/>
<path d="M375 358L375.8 371.5L383.3 370.5L383.3 358" stroke="#000" stroke-width="0.9" fill="#fff"/>
<ellipse cx="379.1" cy="357.8" rx="4.2" ry="2.4" transform="rotate(-5 379.1 357.8)" stroke="#000" stroke-width="0.9" fill="#fff"/>
<path d="M352.1 401.2L358.9 395.8L365.6 403.9L376.4 406.6L383.2 407.9L384.5 413.3L376.4 418.7L367 418.7L352.1 410.6Z" stroke="#000" stroke-width="0.9" fill="#fff"/>
<path d="M352.1 401.2L357 406L376.4 410.5L383.2 407.9" stroke="#000" stroke-width="0.7" fill="none"/>
<path d="M376.4 410.5L376.4 418.7" stroke="#000" stroke-width="0.7" fill="none"/>
<ellipse cx="363" cy="409.5" rx="3" ry="2" transform="rotate(15 363 409.5)" stroke="#000" stroke-width="0.9" fill="#fff"/>
<path d="M446.7 332.4C448.5 332.5 452.8 332 457.3 333C461.8 334 468.5 336.2 473.5 338.6C478.5 341 483.9 344.4 487.2 347.3C490.5 350.2 492.8 353.1 493.4 356C494 358.9 493.2 362.7 490.9 364.8C488.6 366.9 485.3 368.3 479.7 368.5C474.1 368.7 465.2 367 457.3 366C449.4 365 439.9 363.3 432.4 362.3C424.8 361.3 417.7 360 412 360C406.3 360 400.3 362.1 398 362.5" stroke="#000" stroke-width="0.9" fill="none"/>
<path d="M447.4 339.3C449.5 339.6 455.2 339.8 459.8 341.1C464.4 342.4 470.4 345 474.7 347.3C479 349.6 484.2 352.7 485.9 354.8C487.6 356.9 486.1 358.7 484.7 359.8C483.2 360.9 481.8 361.8 477.2 361.7C472.6 361.6 464.8 360.3 457.3 359.2C449.8 358.1 439.4 355.7 432.4 354.8C425.3 353.9 419.9 353.9 415 354C410.1 354.1 405 355.2 403 355.5" stroke="#000" stroke-width="0.9" fill="none"/>
<path d="M386 344L418.3 324.3L429 325.6L431.7 333.7L429 337.8L395 358.5Z" stroke="#000" stroke-width="0.9" fill="#fff"/>
<path d="M418.3 324.3C418.3 325.2 417.8 328.1 418.5 330C419.2 331.9 420.8 334.2 422.5 335.5C424.2 336.8 427.9 337.4 429 337.8" stroke="#000" stroke-width="0.9" fill="none"/>
<path d="M429 325.6L439.8 316.2L446.6 323L431.7 333.7Z" stroke="#000" stroke-width="0.9" fill="#fff"/>
<ellipse cx="443" cy="318.5" rx="4.8" ry="6" transform="rotate(35 443 318.5)" stroke="#000" stroke-width="1.0" fill="#fff"/>
<ellipse cx="443.4" cy="318.4" rx="3.2" ry="4.3" transform="rotate(35 443.4 318.4)" stroke="#000" stroke-width="0.8" fill="none"/>
<path d="M433.1 332.4C433.9 331.1 435.6 330.9 437 330.5C438.4 330.1 439.8 329.2 441.2 329.7C442.6 330.2 444.4 332.3 445.2 333.7C445.9 335.1 445.7 336.4 445.7 338C445.7 339.6 446.2 341.9 445.2 343.2C444.2 344.5 441.6 345.9 439.8 345.9C438 345.9 435.6 344.5 434.4 343.2C433.2 341.9 432.7 339.8 432.5 338C432.3 336.2 432.4 333.6 433.1 332.4Z" stroke="#000" stroke-width="0.9" fill="#fff"/>
<path d="M436.5 330.8C436.3 332 435.3 335.6 435.5 338C435.7 340.4 437.2 344 437.5 345.2" stroke="#000" stroke-width="0.7" fill="none"/>
<path d="M438.5 330.2C438.4 331.5 437.7 335.4 437.8 338C437.9 340.6 439.1 344.2 439.3 345.5" stroke="#000" stroke-width="0.6" fill="none"/>
<path d="M378.3 345.8C378.9 345.4 380.5 344.2 382 343.2C383.5 342.2 385.9 340.6 387.4 340C388.8 339.4 390.1 339.6 390.7 339.5L390.7 339.5C390.3 339.8 388.8 340.7 388.3 341.5C387.8 342.3 387.7 342.8 387.8 344.1C387.9 345.4 388.2 347.4 389.1 349.1C390 350.8 391.7 353 393.2 354.1C394.7 355.2 397.1 355.6 398.2 355.7C399.3 355.8 399.6 354.7 399.9 354.5L398.2 356.6L388.3 362.4C387.6 361.8 385.2 359.8 384 358.5C382.8 357.2 381.7 356 380.8 354.9C379.9 353.8 379.1 353.1 378.7 351.6C378.3 350.1 378.4 346.8 378.3 345.8Z" stroke="#000" stroke-width="0.9" fill="#fff"/>
<path d="M389.5 340.2C389 340.8 386.9 342.1 386.5 343.5C386.1 344.9 386.1 346.8 386.8 348.5C387.5 350.2 389 352.5 390.5 354C392 355.5 395.1 356.9 396 357.5" stroke="#000" stroke-width="0.7" fill="none"/>
<path d="M573.2 281.6L581 258L584.5 253.5L588.5 254.5L598.7 261.2L611.8 250.3L633.6 240.2L651 238L669.9 241.6L691.7 249.6L720 257.3L749 266L759.2 268.9L765 274.7L767.2 283.4L770.8 319.7L772.5 340L772.5 360L771 372.4L768 378.5L766.5 386L760 392.5L721.2 412.8L710.5 436L707.8 438.4L690 434L683.5 430.3L604.8 411L586.5 406L582 404.5L578.2 399.4L574.9 381.2L566.6 366.2L560 346.3L558.3 319.8L563.3 296.5Z" stroke="#000" stroke-width="0" fill="#fff"/>
<path d="M573.2 281.6C571.6 284.1 565.8 290.1 563.3 296.5C560.8 302.9 558.8 311.5 558.3 319.8C557.8 328.1 558.6 338.6 560 346.3C561.4 354 564.1 360.4 566.6 366.2C569.1 372 573.5 378.7 574.9 381.2" stroke="#000" stroke-width="1.0" fill="none"/>
<path d="M575.5 282.5C573.9 284.9 568.2 290.8 565.8 297C563.3 303.2 561.4 311.8 560.8 320C560.2 328.2 561 338.4 562.3 346C563.6 353.6 566.4 359.8 568.8 365.5C571.2 371.2 575.2 377.6 576.5 380" stroke="#000" stroke-width="0.6" fill="none"/>
<path d="M574.9 381.2L578.2 399.4L582 404.5L586.5 406L604.8 411" stroke="#000" stroke-width="1.0" fill="none"/>
<ellipse cx="584.2" cy="398.8" rx="2.5" ry="2.1" transform="rotate(30 584.2 398.8)" stroke="#000" stroke-width="0.9" fill="none"/>
<path d="M576.5 380L590 404L604.8 411" stroke="#000" stroke-width="0.6" fill="none"/>
<path d="M604.8 411L683.5 430.3" stroke="#000" stroke-width="1.0" fill="none"/>
<path d="M598.5 408.5L683 428" stroke="#000" stroke-width="0.6" fill="none"/>
<path d="M683.5 430.3L690 434L707.8 438.4L710.5 436L721.2 412.8" stroke="#000" stroke-width="1.0" fill="none"/>
<ellipse cx="703.7" cy="431.7" rx="2.5" ry="2.1" transform="rotate(30 703.7 431.7)" stroke="#000" stroke-width="0.9" fill="none"/>
<path d="M686 431.7L721.2 412.8" stroke="#000" stroke-width="0.6" fill="none"/>
<path d="M721.2 412.8L760 392.5" stroke="#000" stroke-width="1.0" fill="none"/>
<path d="M718 411.5L758 390" stroke="#000" stroke-width="0.6" fill="none"/>
<path d="M760 392.5C761.1 391.4 765.2 388.3 766.5 386C767.8 383.7 767.2 380.8 768 378.5C768.8 376.2 770.5 373.4 771 372.4" stroke="#000" stroke-width="1.0" fill="none"/>
<ellipse cx="672.5" cy="314.5" rx="81" ry="64" transform="rotate(41 672.5 314.5)" stroke="#000" stroke-width="0.8" fill="none"/>
<ellipse cx="672.5" cy="313.5" rx="78.5" ry="61.5" transform="rotate(41 672.5 313.5)" stroke="#000" stroke-width="0.7" fill="none"/>
<ellipse cx="671.5" cy="311" rx="75.5" ry="58.5" transform="rotate(43 671.5 311)" stroke="#000" stroke-width="0.7" fill="none"/>
<ellipse cx="672.1" cy="309.3" rx="63.9" ry="46.7" transform="rotate(42 672.1 309.3)" stroke="#000" stroke-width="0.9" fill="none"/>
<ellipse cx="606.7" cy="291.8" rx="2.5" ry="2.1" transform="rotate(30 606.7 291.8)" stroke="#000" stroke-width="0.9" fill="#fff"/>
<ellipse cx="615.4" cy="324.8" rx="2.5" ry="2.1" transform="rotate(30 615.4 324.8)" stroke="#000" stroke-width="0.9" fill="#fff"/>
<ellipse cx="638.6" cy="353.9" rx="2.5" ry="2.1" transform="rotate(30 638.6 353.9)" stroke="#000" stroke-width="0.9" fill="#fff"/>
<ellipse cx="670.7" cy="370.6" rx="2.5" ry="2.1" transform="rotate(30 670.7 370.6)" stroke="#000" stroke-width="0.9" fill="#fff"/>
<ellipse cx="702" cy="370.6" rx="2.5" ry="2.1" transform="rotate(30 702 370.6)" stroke="#000" stroke-width="0.9" fill="#fff"/>
<ellipse cx="725.5" cy="354.4" rx="2.5" ry="2.1" transform="rotate(30 725.5 354.4)" stroke="#000" stroke-width="0.9" fill="#fff"/>
<ellipse cx="733.6" cy="326.1" rx="2.5" ry="2.1" transform="rotate(30 733.6 326.1)" stroke="#000" stroke-width="0.9" fill="#fff"/>
<ellipse cx="725.5" cy="293.7" rx="2.5" ry="2.1" transform="rotate(30 725.5 293.7)" stroke="#000" stroke-width="0.9" fill="#fff"/>
<ellipse cx="616" cy="265" rx="2.5" ry="2.1" transform="rotate(30 616 265)" stroke="#000" stroke-width="0.9" fill="#fff"/>
<path d="M610.5 336C611.4 338 613.8 344 616 348C618.2 352 621.3 356.6 624 360C626.7 363.4 629 366.3 632 368.5C635 370.7 638.5 371.8 642 373C645.5 374.2 651.2 375.1 653 375.5" stroke="#000" stroke-width="0.7" fill="none"/>
<path d="M653.5 371L653 377" stroke="#000" stroke-width="0.6" fill="none"/>
<path d="M685.4 384.5L709.3 390.2L730 376.7L758.5 364.2L765.4 364.2L771 368.7" stroke="#000" stroke-width="0.8" fill="none"/>
<path d="M686.5 379.5L685.4 384.5" stroke="#000" stroke-width="0.6" fill="none"/>
<path d="M740.3 294.6C741.2 295 743.9 296.1 746 297C748.1 297.9 750.5 298.1 752.8 300.3C755.1 302.5 757.7 306.8 760 310C762.3 313.2 764.7 315.4 766.5 319.7C768.3 324 770.2 330.6 771 335.6C771.8 340.7 771.5 345.1 771.5 350C771.5 354.9 771.2 361.2 771 365.3C770.8 369.4 770.8 371.7 770 374.4C769.2 377.1 767.5 379 766.5 381.3C765.5 383.6 764.6 387 764.2 388.1" stroke="#000" stroke-width="1.4" fill="none"/>
<path d="M758.5 312.8L758.5 363" stroke="#000" stroke-width="0.8" fill="none"/>
<path d="M765.4 324.2L765.4 364.2" stroke="#000" stroke-width="0.8" fill="none"/>
<path d="M598.7 261.2C600.9 259.4 606 253.8 611.8 250.3C617.6 246.8 627.1 242.2 633.6 240.2C640.1 238.1 646.6 238.1 651 238C655.4 237.9 656.9 239.1 660 239.7C663.1 240.3 664.7 239.9 669.9 241.6C675.1 243.3 682.8 247.2 691.1 249.8C699.5 252.4 709.6 254.3 720 257.3C730.4 260.3 746.5 265.2 753.4 267.7C760.3 270.2 759.1 270.1 761.2 272.4C763.3 274.7 764.8 279.8 765.8 281.7C766.8 283.6 767 283.6 767.2 284L753.4 300.4L742.5 294.1C741 292.8 737 288.2 733.2 286.4C729.5 284.6 724.4 284.2 720 283.2C715.6 282.1 711.5 281.3 706.7 280.1C701.9 278.9 695 276.6 691.1 276.2C687.2 275.8 688.5 278.4 683.3 277.8C678.1 277.2 666.4 273.7 660 272.4C653.6 271.1 650.8 270.9 645.2 269.8C639.6 268.7 632.6 266.2 626.3 265.5C620 264.8 612 265.5 607.4 265.3C602.8 265.1 600.2 264.6 598.7 264.5Z" stroke="#000" stroke-width="0" fill="#fff"/>
<path d="M598.7 261.2C600.9 259.4 606 253.8 611.8 250.3C617.6 246.8 627.1 242.2 633.6 240.2C640.1 238.1 646.6 238.1 651 238C655.4 237.9 656.9 239.1 660 239.7C663.1 240.3 664.7 239.9 669.9 241.6C675.1 243.3 682.8 247.2 691.1 249.8C699.5 252.4 709.6 254.3 720 257.3C730.4 260.3 746.5 265.2 753.4 267.7C760.3 270.2 759.1 270.1 761.2 272.4C763.3 274.7 764.8 279.8 765.8 281.7C766.8 283.6 767 283.6 767.2 284" stroke="#000" stroke-width="1.1" fill="none"/>
<path d="M620 246C622.3 245.3 628.4 242.8 633.6 241.8C638.8 240.8 645 239.7 651 240C657 240.3 664.3 242.2 669.9 243.6C675.5 245 682 247.4 684.4 248.2" stroke="#000" stroke-width="0.6" fill="none"/>
<path d="M598.7 263.4C600.2 263.5 602.8 264 607.4 264.1C612 264.2 620 263.4 626.3 264.1C632.6 264.8 639.6 267.6 645.2 268.5C650.8 269.4 653.6 268.3 660 269.2C666.4 270.1 678.3 273.8 683.3 273.9C688.3 274 688.2 271.6 690 270C691.8 268.4 693 265.9 694.2 264.6C695.4 263.3 696 262.8 697 262.4C698 262 699.3 262 700.5 262.2C701.7 262.4 703 262.9 704 263.5C705 264.1 705.7 264.6 706.7 266.1C707.7 267.6 708.4 270.9 709.8 272.4C711.2 273.9 712.1 274.2 715 275C717.9 275.8 723.5 275.9 727 277C730.5 278.1 733.7 278.8 736.3 281.7C738.9 284.6 741.5 292 742.5 294.1" stroke="#000" stroke-width="1.0" fill="none"/>
<path d="M598.7 264.5C600.2 264.6 602.8 265.1 607.4 265.3C612 265.5 620 264.8 626.3 265.5C632.6 266.2 639.6 268.7 645.2 269.8C650.8 270.9 653.6 271.1 660 272.4C666.4 273.7 678.1 277.2 683.3 277.8C688.5 278.4 687.2 275.8 691.1 276.2C695 276.6 701.9 278.9 706.7 280.1C711.5 281.3 715.6 282.1 720 283.2C724.4 284.2 729.5 284.6 733.2 286.4C737 288.2 741 292.8 742.5 294.1" stroke="#000" stroke-width="0.8" fill="none"/>
<path d="M725.4 277L733.2 278.6L736.3 284.8L730 283.2Z" stroke="#000" stroke-width="0.7" fill="none"/>
<ellipse cx="700.3" cy="268" rx="2.5" ry="2.1" transform="rotate(30 700.3 268)" stroke="#000" stroke-width="0.9" fill="none"/>
<path d="M767.2 283.4C767.5 286.8 768 295 768.8 303.7C769.6 312.4 771.5 325.3 772.2 335.6C773 345.9 773.5 358.1 773.3 365.3C773.1 372.5 771.4 376.7 771 379" stroke="#000" stroke-width="0.9" fill="none"/>
<path d="M752.8 300.3L766.5 290" stroke="#000" stroke-width="0.8" fill="none"/>
<path d="M757.4 303.7L767.6 294.6" stroke="#000" stroke-width="0.7" fill="none"/>
<path d="M573.2 281.6C573.7 279.7 575 273.9 576 270C577 266.1 578.1 261.1 578.9 258.5C579.7 255.9 580 255.3 580.8 254.3C581.6 253.3 582.6 252.8 583.6 252.5C584.6 252.2 585.9 252.3 587 252.6C588.1 252.8 588.7 253 590 254C591.3 255 593.5 257.1 595 258.6C596.5 260.2 598.3 262.5 599 263.3" stroke="#000" stroke-width="1.0" fill="#fff"/>
<path d="M573.5 281L599 264.3" stroke="#000" stroke-width="1.5" fill="none"/>
<path d="M575.8 282.8L599.5 266.8" stroke="#000" stroke-width="0.7" fill="none"/>
<path d="M578.3 262L587 270.3" stroke="#000" stroke-width="0.7" fill="none"/>
<ellipse cx="584.9" cy="258.6" rx="2.5" ry="2.2" transform="rotate(30 584.9 258.6)" stroke="#000" stroke-width="0.9" fill="none"/>
<line x1="705" y1="290.3" x2="700" y2="294.6" stroke="#000" stroke-width="4.4" stroke-linecap="butt"/>
<line x1="705" y1="290.3" x2="700" y2="294.6" stroke="#fff" stroke-width="2.4" stroke-linecap="butt"/>
<circle cx="700" cy="294.6" r="2.1" fill="#fff" stroke="#000" stroke-width="0.9"/>
<ellipse cx="705" cy="290.3" rx="4.7" ry="4.2" transform="rotate(40 705 290.3)" stroke="#000" stroke-width="1.0" fill="#fff"/>
<path d="M705.5 286C705.8 286.1 706.4 286.3 706.9 286.5C707.3 286.7 707.7 287 708 287.4C708.3 287.7 708.6 288.1 708.9 288.5C709.1 288.9 709.3 289.3 709.4 289.8C709.5 290.2 709.5 290.7 709.5 291.1C709.5 291.6 709.3 292 709.2 292.4C709 292.8 708.8 293.1 708.5 293.5C708.2 293.8 707.6 294.1 707.5 294.2" stroke="#000" stroke-width="1.6" fill="none"/>
<circle cx="704.2" cy="291" r="2.7" fill="#fff" stroke="#000" stroke-width="0.8"/>
<line x1="702.5" y1="289.7" x2="698.6" y2="293" stroke="#000" stroke-width="0.8"/>
<line x1="705.2" y1="292.9" x2="701.4" y2="296.2" stroke="#000" stroke-width="0.8"/>
<path d="M774.5 74.8C773.8 74.4 771.1 73.5 770 72.3C768.9 71.1 767.8 69.5 767.6 67.8C767.4 66.1 768.6 63.3 768.8 62.4L805.9 30C806.3 30.2 807 29.5 808.3 31C809.6 32.5 812.7 37 813.7 38.8C814.7 40.6 814.5 40.6 814.2 41.6C814 42.6 812.5 44 812.2 44.5L803.9 52.3L803.9 55.9L818.5 73L805 80.5L792.4 66.3C792 65.9 790.9 64.3 790 63.8C789.1 63.3 788 63 787 63.1C786 63.2 784.6 64 784.1 64.2Z" stroke="#000" stroke-width="1.0" fill="#fff"/>
<path d="M809.5 40.5C809.1 40.9 809.3 40.7 807 42.8C804.7 44.9 797.9 50.9 795.6 53.3C793.4 55.7 793.7 55.7 793.5 57C793.3 58.3 794.3 60.4 794.5 61.1" stroke="#000" stroke-width="0.9" fill="none"/>
<path d="M794.5 61.1L806.5 76.5" stroke="#000" stroke-width="0.9" fill="none"/>
<path d="M809.5 40.5C809.8 40.1 810.4 38.5 811 38.2C811.6 37.9 813 38.5 813.4 38.6" stroke="#000" stroke-width="0.7" fill="none"/>
<path d="M796.6 54.9L800.7 57.3L803.9 55.9" stroke="#000" stroke-width="0.7" fill="none"/>
<path d="M800.7 57.3L800.2 61" stroke="#000" stroke-width="0.6" fill="none"/>
<path d="M797.6 63.5L803 61" stroke="#000" stroke-width="0.6" fill="none"/>
<path d="M805.3 57.8L816.3 70.8" stroke="#000" stroke-width="1.3" fill="none"/>
<path d="M777.5 72.8C778.7 71.7 782.8 67.2 784.5 66C786.2 64.8 786.6 65.2 787.8 65.6C789 66 790.9 68 791.5 68.5" stroke="#000" stroke-width="0.6" fill="none"/>
<path d="M792.4 66.3L794.8 71" stroke="#000" stroke-width="0.6" fill="none"/>
<path d="M783.5 140C783.1 134.3 782.7 127.9 782.8 122.4C782.9 117 783.3 111.3 784.3 107.3C785.3 103.3 786.7 101.7 788.7 98.6C790.7 95.5 793.3 91.5 796.2 88.7C799.1 85.9 802.4 83.8 806.1 81.8C809.8 79.8 813.8 77.9 818.6 76.8C823.4 75.7 830.3 75.4 835 75C839.7 74.6 843.1 74.9 847 74.5C850.9 74.1 854.2 72.2 858.6 72.5C863 72.8 869.7 74.7 873.6 76.4C877.5 78.2 879.3 80.8 882 83C884.7 85.2 887 87.2 889.7 89.5C892.4 91.8 895.4 94.2 898 97C900.6 99.8 903.8 103.7 905.5 106C907.2 108.3 907.2 109.9 908.5 111C909.8 112.1 911.2 110.6 913.2 112.6C915.2 114.6 919.2 118.4 920.6 123C922 127.6 921 134.4 921.4 140C921.8 145.6 923 150.5 923 156.6C923 162.7 922.5 171 921.4 176.5C920.3 182 918.9 185.4 916.4 189.8C913.9 194.2 910.3 199.5 906.4 203.1C902.5 206.7 898.5 209.2 893.2 211.4C888 213.6 880.7 215.2 874.9 216.3C869.1 217.4 863.6 218.8 858.3 218C853 217.2 848.4 213.9 843.1 211.4C837.8 208.9 832.3 206.7 826.5 203.1C820.7 199.5 813.7 194.8 808.2 189.8C802.7 184.8 797.2 178.7 793.3 173.2C789.4 167.7 786.6 162.1 785 156.6C783.4 151.1 783.9 145.7 783.5 140Z" stroke="#000" stroke-width="1.35" fill="#fff"/>
<path d="M797 95C796.2 97.3 793.6 104 792.5 109C791.4 114 790.6 120.2 790.3 125C790 129.8 790.2 134.3 790.5 138C790.8 141.7 791.8 145.5 792 147" stroke="#000" stroke-width="0.9" fill="none"/>
<path d="M918.5 124C918.8 127 919.8 136 920 142C920.2 148 920.3 154 919.7 160C919.1 166 918 173 916.4 178C914.8 183 911.1 188 910 190" stroke="#000" stroke-width="1.5" fill="none"/>
<path d="M786 140C785.9 137.1 785.3 127.8 785.5 122.4C785.7 117 786.1 111.3 787 107.5C787.9 103.7 789.2 102.3 791 99.5C792.8 96.7 795.2 93.1 798 90.5C800.8 87.9 803.9 85.9 807.5 84C811.1 82.1 814.9 80.3 819.5 79.2C824.1 78.1 829.9 77.9 835 77.5C840.1 77.1 845.8 77.2 850 77C854.2 76.8 855.8 75.5 860 76C864.2 76.5 872.5 79.3 875 80" stroke="#000" stroke-width="0.7" fill="none"/>
<path d="M786.2 140C786.3 142.5 784.9 150 786.6 155C788.3 160 792.5 164.9 796.6 169.9C800.8 174.9 806 180.1 811.5 184.8C817 189.5 824.5 194.5 829.8 198.1C835.1 201.7 837.5 203.9 843.1 206.4C848.7 208.9 857.2 212.4 863.3 213C869.4 213.6 874.4 211.3 879.9 209.7C885.4 208 891.8 205.9 896.5 203.1C901.2 200.3 904.8 197.2 908.1 193.1C911.4 188.9 914.5 183.7 916.4 178.2C918.3 172.7 919.4 166.4 919.7 160C920.1 153.6 918.7 143.3 918.5 140" stroke="#000" stroke-width="0.8" fill="none"/>
<path d="M789 141C789.1 143.3 787.8 150.5 789.5 155C791.2 159.5 795 163.4 799 168C803 172.6 808.1 177.9 813.5 182.5C818.9 187.1 826.3 192 831.5 195.5C836.7 199 839.2 201.1 844.5 203.5C849.8 205.9 857.2 209.5 863 210C868.8 210.5 873.8 208.1 879 206.5C884.2 204.9 890.1 203.1 894.5 200.5C898.9 197.9 902.3 194.9 905.5 191C908.7 187.1 911.7 182.2 913.5 177C915.3 171.8 916 162.8 916.5 160" stroke="#000" stroke-width="0.6" fill="none"/>
<path d="M914.7 169.9C913.9 172.7 912.3 181.8 909.8 186.5C907.3 191.2 901.5 196.2 899.8 198.1" stroke="#000" stroke-width="0.6" fill="none"/>
<g fill="#fff" stroke="#000" stroke-width="1.0"><circle cx="829.4" cy="147" r="1.85"/><circle cx="829.4" cy="152.8" r="1.85"/><circle cx="834.5" cy="145.8" r="1.85"/><circle cx="834.5" cy="151.5" r="1.85"/><circle cx="834.5" cy="157.2" r="1.85"/><circle cx="839.7" cy="144.5" r="1.85"/><circle cx="839.7" cy="150.2" r="1.85"/><circle cx="839.7" cy="156" r="1.85"/><circle cx="839.7" cy="161.8" r="1.85"/><circle cx="844.9" cy="149" r="1.85"/><circle cx="844.9" cy="154.8" r="1.85"/><circle cx="844.9" cy="160.5" r="1.85"/><circle cx="844.9" cy="166.2" r="1.85"/><circle cx="850" cy="147.8" r="1.85"/><circle cx="850" cy="153.5" r="1.85"/><circle cx="850" cy="159.2" r="1.85"/><circle cx="850" cy="165" r="1.85"/><circle cx="850" cy="170.8" r="1.85"/><circle cx="855.1" cy="152.2" r="1.85"/><circle cx="855.1" cy="158" r="1.85"/><circle cx="855.1" cy="163.8" r="1.85"/><circle cx="855.1" cy="169.5" r="1.85"/><circle cx="855.1" cy="175.2" r="1.85"/><circle cx="860.3" cy="162.5" r="1.85"/><circle cx="860.3" cy="168.2" r="1.85"/><circle cx="860.3" cy="174" r="1.85"/></g>
<g fill="#fff" stroke="#000" stroke-width="1.0"><circle cx="871.6" cy="164.7" r="1.85"/><circle cx="871.6" cy="170.4" r="1.85"/><circle cx="871.6" cy="176.2" r="1.85"/><circle cx="876.8" cy="163.4" r="1.85"/><circle cx="876.8" cy="169.2" r="1.85"/><circle cx="876.8" cy="174.9" r="1.85"/><circle cx="876.8" cy="180.7" r="1.85"/><circle cx="881.9" cy="162.2" r="1.85"/><circle cx="881.9" cy="167.9" r="1.85"/><circle cx="881.9" cy="173.7" r="1.85"/><circle cx="881.9" cy="179.4" r="1.85"/><circle cx="887.1" cy="160.9" r="1.85"/><circle cx="887.1" cy="166.7" r="1.85"/><circle cx="887.1" cy="172.4" r="1.85"/><circle cx="887.1" cy="178.2" r="1.85"/><circle cx="892.2" cy="159.7" r="1.85"/><circle cx="892.2" cy="165.4" r="1.85"/><circle cx="892.2" cy="171.2" r="1.85"/><circle cx="892.2" cy="176.9" r="1.85"/><circle cx="897.4" cy="158.4" r="1.85"/><circle cx="897.4" cy="164.2" r="1.85"/><circle cx="897.4" cy="169.9" r="1.85"/><circle cx="897.4" cy="175.7" r="1.85"/><circle cx="902.5" cy="162.9" r="1.85"/><circle cx="902.5" cy="168.7" r="1.85"/><circle cx="902.5" cy="174.4" r="1.85"/></g>
<g fill="#fff" stroke="#000" stroke-width="1.0"><circle cx="819.4" cy="103" r="1.85"/><circle cx="819.4" cy="108.8" r="1.85"/><circle cx="819.4" cy="114.5" r="1.85"/><circle cx="819.4" cy="120.2" r="1.85"/><circle cx="819.4" cy="126" r="1.85"/><circle cx="819.4" cy="131.8" r="1.85"/><circle cx="824.5" cy="101.8" r="1.85"/><circle cx="824.5" cy="107.5" r="1.85"/><circle cx="824.5" cy="113.2" r="1.85"/><circle cx="824.5" cy="119" r="1.85"/><circle cx="824.5" cy="124.8" r="1.85"/><circle cx="824.5" cy="130.5" r="1.85"/><circle cx="824.5" cy="136.2" r="1.85"/><circle cx="829.7" cy="106.2" r="1.85"/><circle cx="829.7" cy="112" r="1.85"/><circle cx="829.7" cy="117.8" r="1.85"/><circle cx="829.7" cy="123.5" r="1.85"/><circle cx="829.7" cy="129.2" r="1.85"/><circle cx="829.7" cy="135" r="1.85"/><circle cx="834.9" cy="110.8" r="1.85"/><circle cx="834.9" cy="116.5" r="1.85"/><circle cx="834.9" cy="122.2" r="1.85"/><circle cx="834.9" cy="128" r="1.85"/><circle cx="834.9" cy="133.8" r="1.85"/></g>
<g fill="#fff" stroke="#000" stroke-width="1.0"><circle cx="829.5" cy="88.1" r="1.85"/><circle cx="829.5" cy="93.8" r="1.85"/><circle cx="834.6" cy="86.8" r="1.85"/><circle cx="834.6" cy="92.6" r="1.85"/><circle cx="834.6" cy="98.3" r="1.85"/><circle cx="839.8" cy="85.6" r="1.85"/><circle cx="839.8" cy="91.3" r="1.85"/><circle cx="839.8" cy="97.1" r="1.85"/><circle cx="839.8" cy="102.8" r="1.85"/><circle cx="845" cy="84.3" r="1.85"/><circle cx="845" cy="90.1" r="1.85"/><circle cx="845" cy="95.8" r="1.85"/><circle cx="845" cy="101.6" r="1.85"/><circle cx="850.1" cy="83.1" r="1.85"/><circle cx="850.1" cy="88.8" r="1.85"/><circle cx="850.1" cy="94.6" r="1.85"/><circle cx="850.1" cy="100.3" r="1.85"/><circle cx="855.2" cy="87.6" r="1.85"/><circle cx="855.2" cy="93.3" r="1.85"/><circle cx="855.2" cy="99.1" r="1.85"/><circle cx="860.4" cy="92.1" r="1.85"/><circle cx="860.4" cy="97.8" r="1.85"/></g>
<g fill="#fff" stroke="#000" stroke-width="1.0"><circle cx="872.1" cy="94" r="1.85"/><circle cx="872.1" cy="99.8" r="1.85"/><circle cx="877.2" cy="92.8" r="1.85"/><circle cx="877.2" cy="98.5" r="1.85"/><circle cx="877.2" cy="104.2" r="1.85"/><circle cx="882.4" cy="97.2" r="1.85"/><circle cx="882.4" cy="103" r="1.85"/><circle cx="882.4" cy="108.8" r="1.85"/><circle cx="887.6" cy="101.8" r="1.85"/><circle cx="887.6" cy="107.5" r="1.85"/><circle cx="887.6" cy="113.2" r="1.85"/><circle cx="892.7" cy="106.2" r="1.85"/><circle cx="892.7" cy="112" r="1.85"/><circle cx="897.9" cy="110.8" r="1.85"/><circle cx="897.9" cy="116.5" r="1.85"/></g>
<g fill="#fff" stroke="#000" stroke-width="1.0"><circle cx="898.3" cy="127.7" r="1.85"/><circle cx="898.3" cy="133.4" r="1.85"/><circle cx="898.3" cy="139.2" r="1.85"/><circle cx="898.3" cy="144.9" r="1.85"/><circle cx="898.3" cy="150.7" r="1.85"/><circle cx="903.4" cy="126.5" r="1.85"/><circle cx="903.4" cy="132.2" r="1.85"/><circle cx="903.4" cy="137.9" r="1.85"/><circle cx="903.4" cy="143.7" r="1.85"/><circle cx="903.4" cy="149.4" r="1.85"/><circle cx="903.4" cy="155.2" r="1.85"/><circle cx="908.6" cy="136.7" r="1.85"/><circle cx="908.6" cy="142.4" r="1.85"/><circle cx="908.6" cy="148.2" r="1.85"/><circle cx="908.6" cy="153.9" r="1.85"/><circle cx="908.6" cy="159.7" r="1.85"/><circle cx="913.8" cy="141.2" r="1.85"/><circle cx="913.8" cy="146.9" r="1.85"/><circle cx="913.8" cy="152.7" r="1.85"/><circle cx="913.8" cy="158.4" r="1.85"/></g>
<ellipse cx="866.4" cy="131.2" rx="34" ry="24" transform="rotate(50 866.4 131.2)" stroke="#000" stroke-width="1.5" fill="#fff"/>
<ellipse cx="866.4" cy="131.2" rx="32.6" ry="22.8" transform="rotate(50 866.4 131.2)" stroke="#000" stroke-width="0.7" fill="none"/>
<ellipse cx="866.6" cy="131.4" rx="31.2" ry="21.5" transform="rotate(50 866.6 131.4)" stroke="#000" stroke-width="0.9" fill="none"/>
<path d="M794.3 106L812 96L814.3 139.8L793.7 144.8Z" stroke="#000" stroke-width="0.9" fill="#fff"/>
<path d="M811.8 97L814 139.5" stroke="#000" stroke-width="0.7" fill="none"/>
<path d="M796.3 106L796.2 144" stroke="#000" stroke-width="0.7" fill="none"/>
<rect x="798.5" y="105.5" width="3" height="14.5" rx="1.4" fill="#fff" stroke="#000" stroke-width="0.9"/>
<rect x="798.5" y="123" width="3" height="16.8" rx="1.4" fill="#fff" stroke="#000" stroke-width="0.9"/>
<rect x="802.8" y="105.5" width="3" height="14.5" rx="1.4" fill="#fff" stroke="#000" stroke-width="0.9"/>
<rect x="802.8" y="123" width="3" height="16.8" rx="1.4" fill="#fff" stroke="#000" stroke-width="0.9"/>
<rect x="807.2" y="105.5" width="3" height="14.5" rx="1.4" fill="#fff" stroke="#000" stroke-width="0.9"/>
<rect x="807.2" y="123" width="3" height="16.8" rx="1.4" fill="#fff" stroke="#000" stroke-width="0.9"/>
<path d="M797 121.5L811.5 121.5" stroke="#000" stroke-width="0.6" fill="none"/>
<path d="M785.6 103.6L793.7 91.2L817.3 82.4L821 86.2L819.8 93.7L811.1 94.9L801.1 102.4L792.4 106.1Z" stroke="#000" stroke-width="0.9" fill="#fff"/>
<path d="M796 91L800 102" stroke="#000" stroke-width="0.8" fill="none"/>
<path d="M800.5 89L804.5 99.5" stroke="#000" stroke-width="0.8" fill="none"/>
<path d="M806 93L818 86" stroke="#000" stroke-width="0.7" fill="none"/>
<circle cx="794.3" cy="100.5" r="2.3" stroke="#000" stroke-width="0.9" fill="#fff"/>
<path d="M785 154C786 151.7 790.1 151.1 794.3 149.3C798.5 147.5 806.1 144.7 810 143.1C813.9 141.5 815.6 139 817.7 140C819.8 141 822.1 146.7 822.4 149.3C822.7 151.9 822.7 151.9 819.3 155.6C815.9 159.2 805.7 168.3 802.1 171.2C798.5 174 799.8 174 797.5 172.7C795.2 171.4 790.2 166.5 788.1 163.4C786 160.3 784 156.3 785 154Z" stroke="#000" stroke-width="1.0" fill="#fff"/>
<path d="M797.5 157.1L813 149.3L816.2 154L800.6 161.8Z" stroke="#000" stroke-width="0.8" fill="none"/>
<circle cx="794.3" cy="163.4" r="2.4" stroke="#000" stroke-width="0.9" fill="#fff"/>
<path d="M820.8 152.5L861.3 183.6L838 202L816.2 186.7L802 173.5L819.3 155.6Z" stroke="#000" stroke-width="0.9" fill="#fff"/>
<path d="M802 175.8C804.3 177.8 811.7 184.6 816 188C820.3 191.4 823.8 193.6 828 196C832.2 198.4 838.8 201.2 841 202.3" stroke="#000" stroke-width="0.7" fill="none"/>
<path d="M804 173C806.3 175 813.7 181.7 818 185C822.3 188.3 825.8 190.6 830 193C834.2 195.4 840.8 198.4 843 199.5" stroke="#000" stroke-width="0.7" fill="none"/>
<path d="M818.5 157.9L833.3 168.8" stroke="#000" stroke-width="3.0" fill="none"/>
<path d="M818.5 157.9L833.3 168.8" stroke="#fff" stroke-width="1.3" fill="none"/>
<path d="M815.4 163.4L828.6 173.5" stroke="#000" stroke-width="3.0" fill="none"/>
<path d="M815.4 163.4L828.6 173.5" stroke="#fff" stroke-width="1.3" fill="none"/>
<path d="M812.3 168L826.3 179" stroke="#000" stroke-width="3.0" fill="none"/>
<path d="M812.3 168L826.3 179" stroke="#fff" stroke-width="1.3" fill="none"/>
<path d="M839.5 175L854.3 186" stroke="#000" stroke-width="3.0" fill="none"/>
<path d="M839.5 175L854.3 186" stroke="#fff" stroke-width="1.3" fill="none"/>
<path d="M835.6 178.9L850.4 189.8" stroke="#000" stroke-width="3.0" fill="none"/>
<path d="M835.6 178.9L850.4 189.8" stroke="#fff" stroke-width="1.3" fill="none"/>
<path d="M831.7 182.8L847.3 193.7" stroke="#000" stroke-width="3.0" fill="none"/>
<path d="M831.7 182.8L847.3 193.7" stroke="#fff" stroke-width="1.3" fill="none"/>
<path d="M830 171L834 176" stroke="#000" stroke-width="0.7" fill="none"/>
<path d="M870.6 188.3L910.5 179.7L913 186L901.9 194.8L868.5 202.4Z" stroke="#000" stroke-width="0.9" fill="#fff"/>
<path d="M874 192.5L889 187.3" stroke="#222" stroke-width="2.2" fill="none"/>
<path d="M874 192.5L889 187.3" stroke="#fff" stroke-width="0.5" fill="none"/>
<path d="M873 195.8L889 190.5" stroke="#222" stroke-width="2.2" fill="none"/>
<path d="M873 195.8L889 190.5" stroke="#fff" stroke-width="0.5" fill="none"/>
<path d="M872.5 199L887 194.8" stroke="#222" stroke-width="2.2" fill="none"/>
<path d="M872.5 199L887 194.8" stroke="#fff" stroke-width="0.5" fill="none"/>
<path d="M891 185.5L902 183.3" stroke="#222" stroke-width="2.2" fill="none"/>
<path d="M891 185.5L902 183.3" stroke="#fff" stroke-width="0.5" fill="none"/>
<path d="M890.5 189L900.8 186.3" stroke="#222" stroke-width="2.2" fill="none"/>
<path d="M890.5 189L900.8 186.3" stroke="#fff" stroke-width="0.5" fill="none"/>
<path d="M889.5 193L899.8 190.5" stroke="#222" stroke-width="2.2" fill="none"/>
<path d="M889.5 193L899.8 190.5" stroke="#fff" stroke-width="0.5" fill="none"/>
<path d="M872 203.5L900 197" stroke="#000" stroke-width="0.8" fill="none"/>
<path d="M865.2 213.2C868.5 212.4 878.9 210.5 885 208.5C891.1 206.5 897.7 203.9 901.9 201.3C906.1 198.7 907.8 195.9 910 193C912.2 190.1 914.2 185.5 915 184" stroke="#000" stroke-width="0.8" fill="none"/>
<path d="M863.5 210C866.9 209.2 877.9 207.4 884 205.5C890.1 203.6 897.3 199.7 900 198.5" stroke="#000" stroke-width="0.6" fill="none"/>
<path d="M837.2 205.6C838.7 203.1 844.2 199.6 848 196C851.8 192.4 857.1 186.2 859.8 184C862.5 181.8 862.7 182.8 864 182.6C865.3 182.4 866.1 182.2 867.4 183C868.7 183.8 871.4 185.6 871.7 187.3C872.1 189 870.2 191.2 869.5 193C868.8 194.8 868.5 195.9 867.4 198C866.3 200.1 863.9 202.7 863 205.6C862.1 208.5 862.7 213.3 862 215.3C861.3 217.3 861 217.6 858.7 217.5C856.4 217.4 851.2 216.1 848 215C844.8 213.9 841.1 212.6 839.3 211C837.5 209.4 835.8 208.1 837.2 205.6Z" stroke="#000" stroke-width="1.0" fill="#fff"/>
<path d="M845.8 203.5C846.8 202.3 849.9 198.8 852 196.5C854.1 194.2 856.9 190.9 858.7 189.4C860.5 187.9 861.7 187.6 863 187.5C864.3 187.4 865.9 188.8 866.5 189" stroke="#000" stroke-width="0.8" fill="none"/>
<path d="M863 205.6L845.8 203.5" stroke="#000" stroke-width="0.6" fill="none"/>
<circle cx="850.1" cy="208.3" r="2.6" stroke="#000" stroke-width="0.9" fill="#fff"/>
<path d="M905.1 184L913.8 184L912.7 188.3L904 188.5Z" stroke="#000" stroke-width="0.8" fill="#fff"/>
<circle cx="904.6" cy="192.7" r="2.5" stroke="#000" stroke-width="0.9" fill="#fff"/>
<path d="M874.4 79.3L889.5 91.2" stroke="#111" stroke-width="3.4" fill="none"/>
<path d="M874.5 80.9L876.9 79.7" stroke="#fff" stroke-width="0.6" fill="none"/>
<path d="M877 82.8L879.4 81.7" stroke="#fff" stroke-width="0.6" fill="none"/>
<path d="M879.5 84.8L881.9 83.7" stroke="#fff" stroke-width="0.6" fill="none"/>
<path d="M882 86.8L884.4 85.7" stroke="#fff" stroke-width="0.6" fill="none"/>
<path d="M884.5 88.8L886.9 87.7" stroke="#fff" stroke-width="0.6" fill="none"/>
<path d="M887 90.8L889.4 89.6" stroke="#fff" stroke-width="0.6" fill="none"/>
<path d="M890.6 97.1L905.7 108.5" stroke="#111" stroke-width="3.2" fill="none"/>
<path d="M890.7 98.6L893 97.5" stroke="#fff" stroke-width="0.6" fill="none"/>
<path d="M893.2 100.5L895.5 99.4" stroke="#fff" stroke-width="0.6" fill="none"/>
<path d="M895.7 102.4L898 101.3" stroke="#fff" stroke-width="0.6" fill="none"/>
<path d="M898.3 104.3L900.6 103.2" stroke="#fff" stroke-width="0.6" fill="none"/>
<path d="M900.8 106.2L903.1 105.1" stroke="#fff" stroke-width="0.6" fill="none"/>
<path d="M903.3 108.1L905.6 107" stroke="#fff" stroke-width="0.6" fill="none"/>
<circle cx="894.4" cy="96" r="1" stroke="#000" stroke-width="0.8" fill="#fff"/>
<path d="M864.7 83.1L904.6 113.3" stroke="#000" stroke-width="2.2" fill="none"/>
<path d="M866 86.5L903 115.5" stroke="#000" stroke-width="0.7" fill="none"/>
<path d="M904.9 117C905.9 118.7 909.3 122.8 911 127C912.7 131.2 914.2 136.5 915 142C915.8 147.5 916 154.7 915.5 160C915 165.3 913.6 169.8 912 174C910.4 178.2 907 183.2 906 185" stroke="#000" stroke-width="1.3" fill="none"/>
<path d="M918 126C918.2 128.7 918.9 136.3 919 142C919.1 147.7 919 155 918.5 160C918 165 917.2 168.3 916 172C914.8 175.7 911.8 180.3 911 182" stroke="#000" stroke-width="0.7" fill="none"/>
<path d="M846.2 77.4L859.9 72.5L873.6 76.8L867.3 82.4L854.9 87.4Z" stroke="#000" stroke-width="0.9" fill="#fff"/>
<path d="M852 78L856 85" stroke="#000" stroke-width="0.6" fill="none"/>
<path d="M858 76L862 83.5" stroke="#000" stroke-width="0.6" fill="none"/>
<path d="M907 117L912.2 112.8L918.4 123.2L919.4 139.8L915 138L909 124Z" stroke="#000" stroke-width="0.9" fill="#fff"/>
<circle cx="904.9" cy="130.5" r="2.4" stroke="#000" stroke-width="0.9" fill="#fff"/>
</svg></body></html>
